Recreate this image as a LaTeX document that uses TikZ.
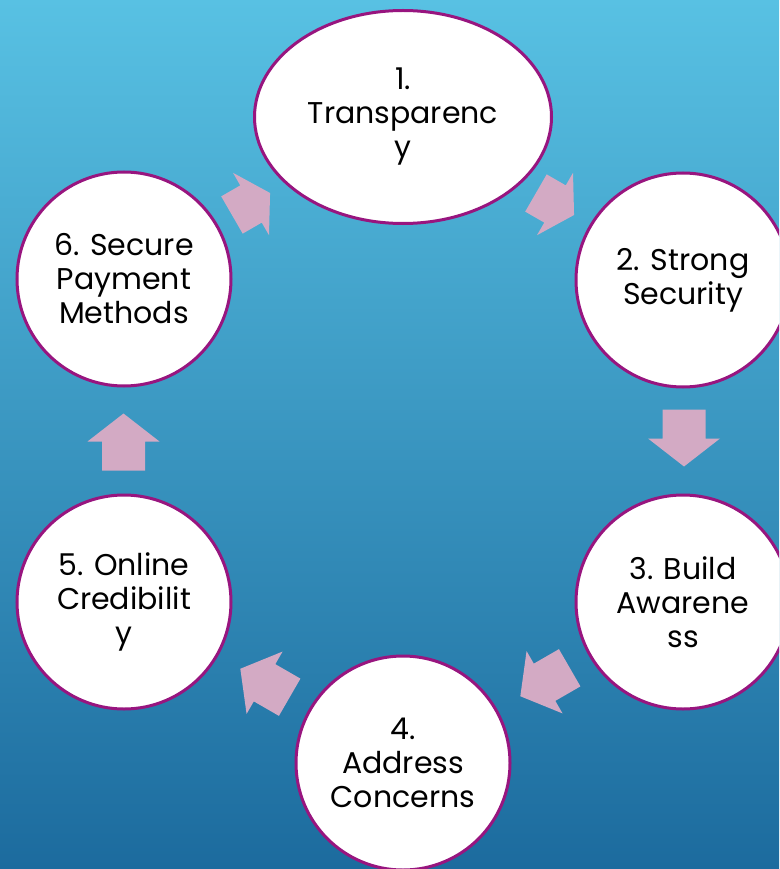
\documentclass[tikz,border=0pt]{standalone}
\usepackage{fontspec}
\setmainfont{Poppins}
\usetikzlibrary{shapes.geometric}
\definecolor{bgtop}{HTML}{58C1E3}
\definecolor{bgbot}{HTML}{1C6B9E}
\definecolor{ringc}{HTML}{98157F}
\definecolor{arrowc}{HTML}{D3AAC4}
\tikzset{
  stage/.style={circle, draw=ringc, line width=3pt, fill=white, minimum size=214pt,
    inner sep=0pt, align=center, font=\fontsize{30}{34}\selectfont, text=black},
  stageoval/.style={stage, ellipse, minimum width=297pt, minimum height=213pt},
  blockarrow/.style={fill=arrowc}
}
% centre x, centre y, angle, total length, head length
\newcommand\cyclearrow[5]{%
  \fill[blockarrow, shift={(#1,#2)}, rotate=#3]
    ({-#4/2},-21.5) -- ({#4/2-#5},-21.5) -- ({#4/2-#5},-36) -- ({#4/2},0)
    -- ({#4/2-#5},36) -- ({#4/2-#5},21.5) -- ({-#4/2},21.5) -- cycle;}
\begin{document}
\begin{tikzpicture}[x=1pt,y=-1pt]
\useasboundingbox (0,0) rectangle (779,869);
\clip (0,0) rectangle (779,869);
\shade[top color=bgtop, bottom color=bgbot] (0,0) rectangle (779,869);
% arrows
\cyclearrow{555}{204}{-30}{44}{22}
\cyclearrow{684}{438}{-90}{57}{28}
\cyclearrow{545}{682}{-150}{57}{28}
\cyclearrow{265}{683}{150}{57}{28}
\cyclearrow{123.5}{442}{90}{57}{28}
\cyclearrow{251}{204}{30}{44}{22}
% stages
\node[stageoval] (s1) at (403,117) {1.\\Transparenc\\y};
\node[stage] (s2) at (683,280) {2. Strong\\Security};
\node[stage] (s3) at (683,602) {3. Build\\Awarene\\ss};
\node[stage] (s4) at (403,763) {4.\\Address\\Concerns};
\node[stage] (s5) at (124,602) {5. Online\\Credibilit\\y};
\node[stage] (s6) at (124,279) {6. Secure\\Payment\\Methods};
\end{tikzpicture}
\end{document}
